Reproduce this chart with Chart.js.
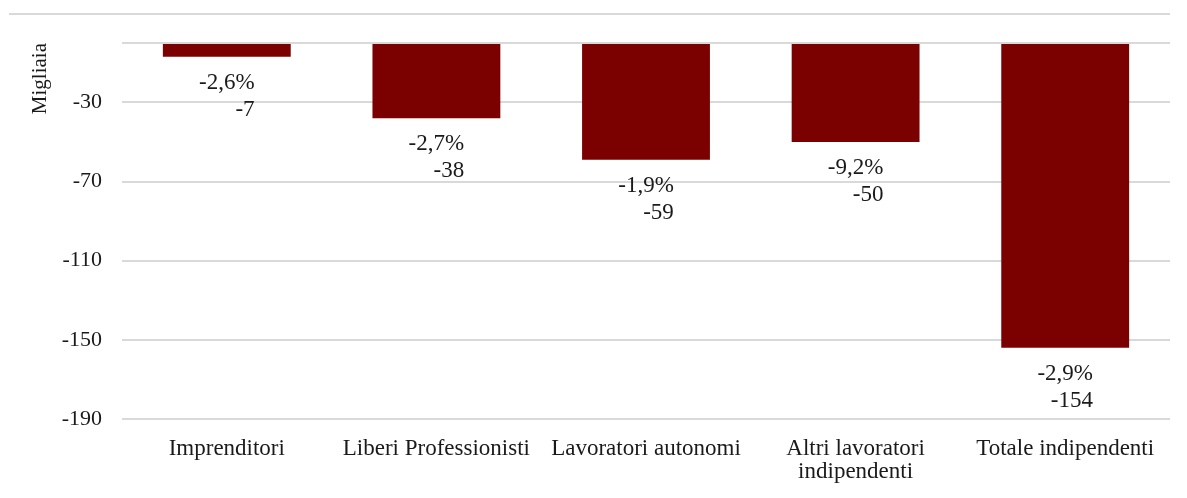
<!DOCTYPE html>
<html>
<head>
<meta charset="utf-8">
<script src="https://cdn.jsdelivr.net/npm/chart.js@4"></script>
<style>
  html, body { margin: 0; padding: 0; background: #fff; }
  #wrap { position: relative; width: 1187px; height: 498px; }
  #topline { position: absolute; left: 9px; top: 13px; width: 1161px; border-top: 2px solid #d9d9d9; }
</style>
</head>
<body>
<div id="wrap">
  <div id="topline"></div>
  <canvas id="chart" width="1187" height="498"></canvas>
</div>
<script>
const categories = ['Imprenditori', 'Liberi Professionisti', 'Lavoratori autonomi', ['Altri lavoratori', 'indipendenti'], 'Totale indipendenti'];
const values = [-7, -38, -59, -50, -154];
const percentages = ['-2,6%', '-2,7%', '-1,9%', '-9,2%', '-2,9%'];
const yTicks = [-190, -150, -110, -70, -30, 0];

const FONT = '"Liberation Serif", "Times New Roman", serif';
const TEXT = '#1a1a1a';

// two-line labels under each bar: percentage on top, value below, right aligned
const barLabels = {
    id: 'barLabels',
    afterDatasetsDraw(chart) {
        const ctx = chart.ctx;
        const meta = chart.getDatasetMeta(0);
        ctx.save();
        ctx.font = '23px ' + FONT;
        ctx.fillStyle = TEXT;
        ctx.textAlign = 'right';
        ctx.textBaseline = 'middle';
        meta.data.forEach(function (bar, i) {
            const w = ctx.measureText(percentages[i]).width;
            const right = bar.x + w / 2;
            ctx.fillText(percentages[i], right, bar.y + 26);
            ctx.fillText(String(values[i]), right, bar.y + 53);
        });
        ctx.restore();
    }
};

new Chart(document.getElementById('chart'), {
    type: 'bar',
    data: {
        labels: categories,
        datasets: [{
            data: values,
            backgroundColor: '#7b0000',
            borderWidth: 0,
            categoryPercentage: 0.61,
            barPercentage: 1
        }]
    },
    options: {
        responsive: false,
        animation: false,
        layout: { padding: { left: 0, right: 17, top: 43, bottom: 0 } },
        plugins: {
            legend: { display: false },
            tooltip: { enabled: false }
        },
        scales: {
            x: {
                grid: { display: false },
                border: { display: false },
                ticks: {
                    color: TEXT,
                    font: { family: FONT, size: 23, lineHeight: 1.0 },
                    maxRotation: 0,
                    autoSkip: false,
                    padding: 10
                },
                afterFit(scale) { scale.height = 79; }
            },
            y: {
                min: -190,
                max: 0,
                afterBuildTicks(scale) {
                    scale.ticks = yTicks.map(v => ({ value: v }));
                },
                grid: { color: '#d9d9d9', lineWidth: 2, drawTicks: false },
                border: { display: false },
                ticks: {
                    color: TEXT,
                    font: { family: FONT, size: 22 },
                    padding: 20,
                    callback: v => (v === 0 ? '' : v)
                },
                title: {
                    display: true,
                    text: 'Migliaia',
                    align: 'end',
                    color: TEXT,
                    font: { family: FONT, size: 21 },
                    padding: { top: 28, bottom: 0 }
                },
                afterFit(scale) { scale.width = 122; }
            }
        }
    },
    plugins: [barLabels]
});
</script>
</body>
</html>
